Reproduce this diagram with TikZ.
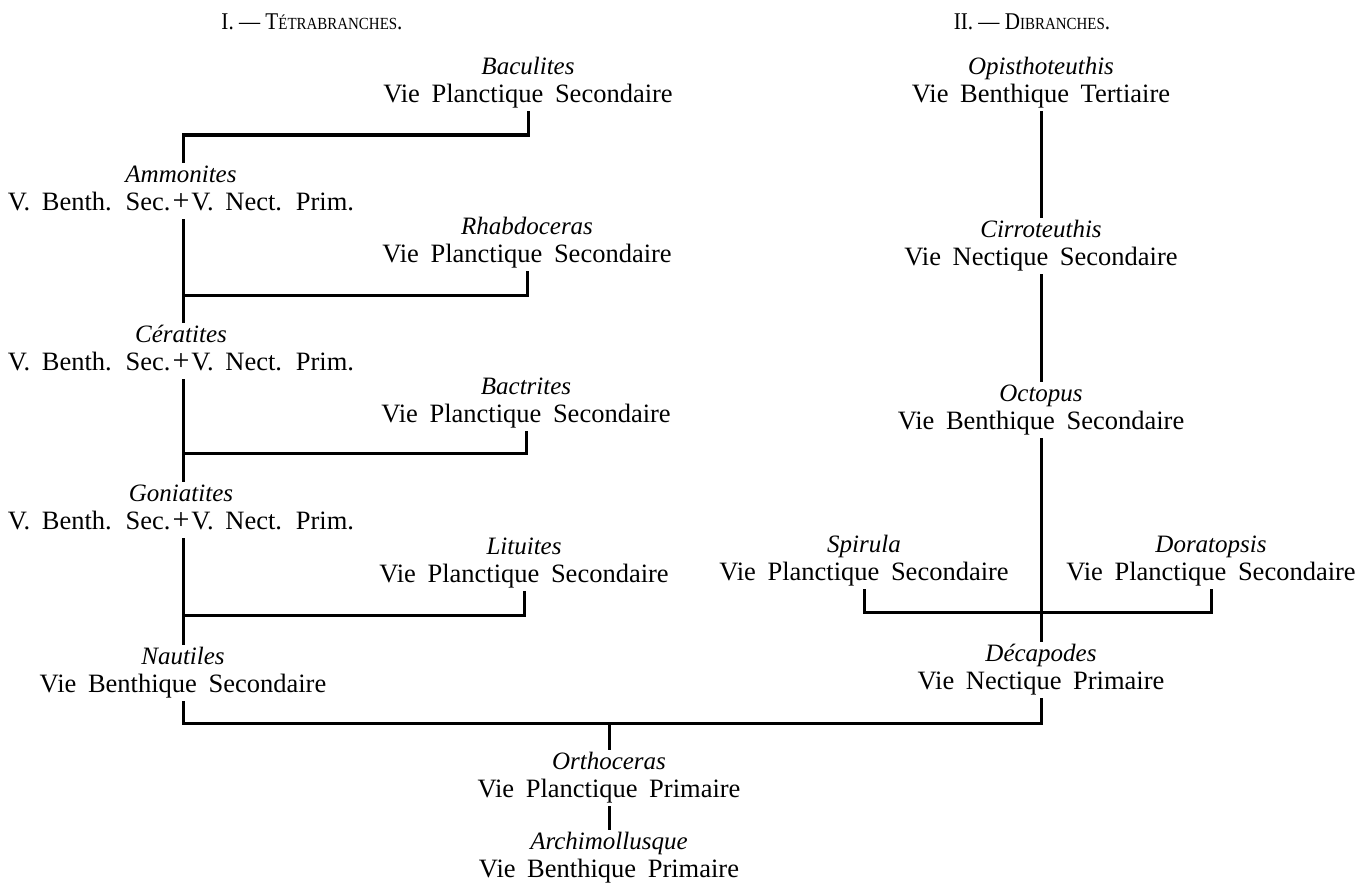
\documentclass[tikz,border=0pt]{standalone}
\usepackage{fontspec}
\setmainfont{Liberation Serif}
\newfontfamily\bodyfont{Liberation Serif}[WordSpace=1.75]
\newfontfamily\headfont{Liberation Serif}[FakeStretch=0.88]
\newcommand\taxlbl[2]{{\fontsize{25}{28}\selectfont\itshape #1}\strut\\#2\strut}
\newcommand\smc[1]{{\fontsize{17}{20}\selectfont #1}}
\newcommand\pls{\kern2pt{\fontsize{30}{28}\selectfont +}\kern2pt}
\begin{document}
\begin{tikzpicture}[x=1pt,y=-1pt,
  taxon/.style={align=center, inner sep=0pt, font=\bodyfont\fontsize{26.5}{28}\selectfont},
  link/.style={line width=3pt, line join=miter},
  heading/.style={inner sep=0pt, font=\headfont\fontsize{24}{26}\selectfont}]
\useasboundingbox (0,0) rectangle (1359,888);
% headings
\node[heading] (t1) at (312,22) {I. — T\smc{ÉTRABRANCHES}.};
\node[heading] (t2) at (1032,22) {II. — D\smc{IBRANCHES}.};
% tetrabranches
\node[taxon] (bac) at (528,83)  {\taxlbl{Baculites}{Vie Planctique Secondaire}};
\node[taxon] (amm) at (181,191) {\taxlbl{Ammonites}{V. Benth. Sec.\pls V. Nect. Prim.}};
\node[taxon] (rha) at (527,243) {\taxlbl{Rhabdoceras}{Vie Planctique Secondaire}};
\node[taxon] (cer) at (181,351) {\taxlbl{Cératites}{V. Benth. Sec.\pls V. Nect. Prim.}};
\node[taxon] (bact) at (526,403) {\taxlbl{Bactrites}{Vie Planctique Secondaire}};
\node[taxon] (gon) at (181,510) {\taxlbl{Goniatites}{V. Benth. Sec.\pls V. Nect. Prim.}};
\node[taxon] (lit) at (524,563) {\taxlbl{Lituites}{Vie Planctique Secondaire}};
\node[taxon] (nau) at (183,673) {\taxlbl{Nautiles}{Vie Benthique Secondaire}};
\node[taxon] (ort) at (609,778) {\taxlbl{Orthoceras}{Vie Planctique Primaire}};
\node[taxon] (arc) at (609,858) {\taxlbl{Archimollusque}{Vie Benthique Primaire}};
% dibranches
\node[taxon] (opi) at (1041,83)  {\taxlbl{Opisthoteuthis}{Vie Benthique Tertiaire}};
\node[taxon] (cir) at (1041,246) {\taxlbl{Cirroteuthis}{Vie Nectique Secondaire}};
\node[taxon] (oct) at (1041,410) {\taxlbl{Octopus}{Vie Benthique Secondaire}};
\node[taxon] (spi) at (864,561)  {\taxlbl{Spirula}{Vie Planctique Secondaire}};
\node[taxon] (dor) at (1211,561) {\taxlbl{Doratopsis}{Vie Planctique Secondaire}};
\node[taxon] (dec) at (1041,670) {\taxlbl{Décapodes}{Vie Nectique Primaire}};
% junctions
\coordinate (b1) at (183,135);
\coordinate (b2) at (183,295);
\coordinate (b3) at (183,453);
\coordinate (b4) at (183,615);
\coordinate (b5) at (609,723);
\coordinate (b6) at (1041,612);
% connectors
\draw[link] (bac.south) |- (b1) -- (b1 |- amm.north);
\draw[link] (b1 |- amm.south) -- (b2) -- (b2 |- cer.north);
\draw[link] (rha.south) |- (b2);
\draw[link] (b2 |- cer.south) -- (b3) -- (b3 |- gon.north);
\draw[link] (bact.south) |- (b3);
\draw[link] (b3 |- gon.south) -- (b4) -- (nau.north);
\draw[link] (lit.south) |- (b4);
\draw[link] (nau.south) |- (b5) -| (dec.south);
\draw[link] (b5) -- (ort.north);
\draw[link] (ort.south) -- (arc.north);
\draw[link] (opi.south) -- (cir.north);
\draw[link] (cir.south) -- (oct.north);
\draw[link] (oct.south) -- (dec.north);
\draw[link] (spi.south) |- (b6) -| (dor.south);
\end{tikzpicture}
\end{document}
